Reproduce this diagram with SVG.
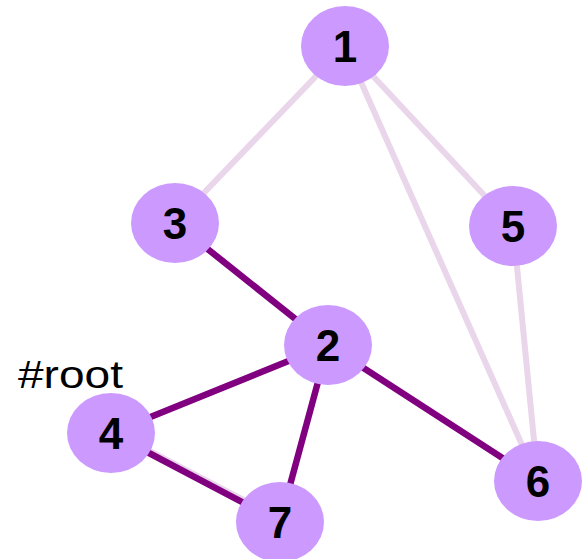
<svg xmlns="http://www.w3.org/2000/svg" width="584" height="559" viewBox="0 0 584 559">
<style>
.light{stroke:#ead6ea;stroke-width:6;fill:none}
.dark{stroke:#800080;stroke-width:6.5;fill:none}
.node ellipse{fill:#cc99ff}
.node text{font-family:"Liberation Sans",Arial,sans-serif;font-weight:bold;font-size:44px;fill:#000;text-anchor:middle}
.lbl{font-family:"Liberation Sans",Arial,sans-serif;font-size:38px;fill:#000}
</style>
<rect width="584" height="559" fill="#fff"/>
<g id="edges">
<line class="light" x1="345" y1="46" x2="175" y2="223"/>
<line class="light" x1="345" y1="46" x2="538" y2="481"/>
<line class="light" x1="345" y1="46" x2="513" y2="226"/>
<line class="light" x1="513" y1="226" x2="538" y2="481"/>
<line class="light" x1="111" y1="431" x2="280" y2="519"/>
<line class="dark" x1="175" y1="223" x2="328" y2="345"/>
<line class="dark" x1="328" y1="345" x2="111" y2="433"/>
<line class="dark" x1="328" y1="345" x2="280" y2="522"/>
<line class="dark" x1="328" y1="345" x2="538" y2="481"/>
<line class="dark" x1="111" y1="433" x2="280" y2="522"/>
</g>
<g id="node1" class="node"><ellipse cx="345" cy="46" rx="44" ry="40"/><text x="345" y="62">1</text></g>
<g id="node3" class="node"><ellipse cx="175" cy="223" rx="44" ry="40"/><text x="175" y="239">3</text></g>
<g id="node5" class="node"><ellipse cx="513" cy="226" rx="44" ry="40"/><text x="513" y="242">5</text></g>
<g id="node2" class="node"><ellipse cx="328" cy="345" rx="44" ry="40"/><text x="328" y="361">2</text></g>
<g id="node4" class="node"><ellipse cx="111" cy="433" rx="44" ry="40"/><text x="111" y="449">4</text></g>
<g id="node6" class="node"><ellipse cx="538" cy="481" rx="44" ry="40"/><text x="538" y="497">6</text></g>
<g id="node7" class="node"><ellipse cx="280" cy="522" rx="44" ry="40"/><text x="280" y="538">7</text></g>
<text class="lbl" x="18" y="388" textLength="105" lengthAdjust="spacingAndGlyphs">#root</text>
</svg>
